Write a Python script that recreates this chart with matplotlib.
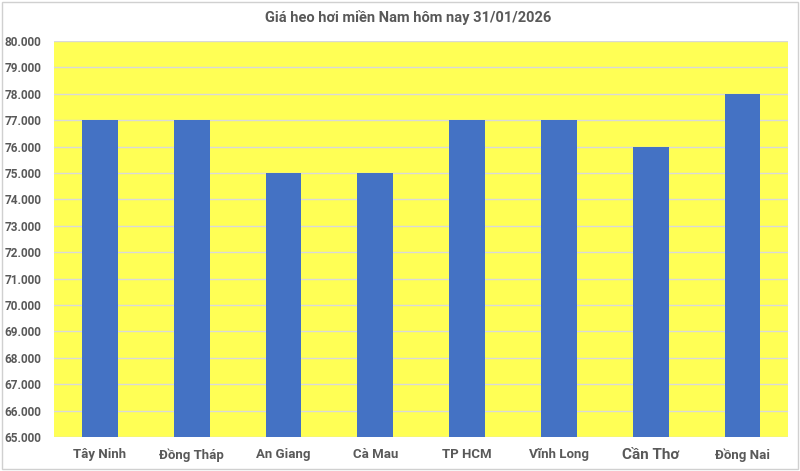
import matplotlib
matplotlib.use("Agg")
import matplotlib.pyplot as plt
from matplotlib.ticker import FuncFormatter, MultipleLocator

regions = ["Tây Ninh", "Đồng Tháp", "An Giang", "Cà Mau",
           "TP HCM", "Vĩnh Long", "Cần Thơ", "Đồng Nai"]
prices = [77000, 77000, 75000, 75000, 77000, 77000, 76000, 78000]
title = "Giá heo hơi miền Nam hôm nay 31/01/2026"

text_gray = "#595959"
plt.rcParams["font.family"] = ["Roboto", "DejaVu Sans"]

fig = plt.figure(figsize=(8, 4.71), dpi=100)
ax = fig.add_axes([0.0675, 0.072, 0.918, 0.841])
ax.set_facecolor("#ffff55")

x = range(len(regions))
ax.bar(x, prices, width=0.39, color="#4472c4", zorder=3)

ax.set_ylim(65000, 80000)
ax.set_xlim(-0.5, len(regions) - 0.5)
ax.yaxis.set_major_locator(MultipleLocator(1000))
ax.yaxis.set_major_formatter(FuncFormatter(lambda v, p: f"{int(v):,}".replace(",", ".")))
ax.grid(axis="y", color="#d9d9d9", linewidth=1, zorder=1)

for s in ax.spines.values():
    s.set_visible(False)
ax.tick_params(axis="y", length=0, pad=9)
ax.tick_params(axis="x", length=0, pad=8)
ax.set_xticks(list(x))
ax.set_xticklabels(regions)
for lbl in ax.get_xticklabels():
    lbl.set_fontsize(9.5)
    lbl.set_fontweight("bold")
    lbl.set_color(text_gray)
    if lbl.get_text() == "Cần Thơ":
        lbl.set_fontsize(11)
for lbl in ax.get_yticklabels():
    lbl.set_fontsize(8.5)
    lbl.set_fontweight("bold")
    lbl.set_color(text_gray)

fig.text(0.51, 0.963, title, ha="center", va="center",
         fontsize=10.5, fontweight="bold", color=text_gray)

# thin sheet border like the screenshot
fig.patches.append(plt.Rectangle((0.002, 0.004), 0.996, 0.992, transform=fig.transFigure,
                                 fill=False, edgecolor="#d0d0d0", linewidth=1))

fig.savefig("out.png", dpi=100)
